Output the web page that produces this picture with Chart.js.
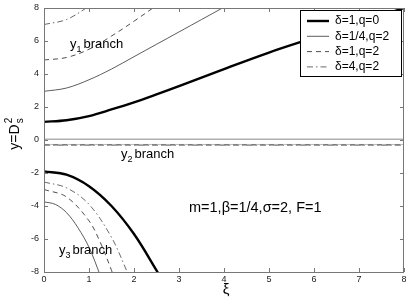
<!DOCTYPE html>
<html>
<head>
<meta charset="utf-8">
<script src="https://cdn.jsdelivr.net/npm/chart.js@4.4.1/dist/chart.umd.min.js"></script>
<style>
  html, body { margin: 0; padding: 0; background: #fff; }
  #wrap { width: 409px; height: 300px; position: relative; }
</style>
</head>
<body>
<div id="wrap"><canvas id="c"></canvas></div>
<script>
// ticks
const xTicks = [0, 1, 2, 3, 4, 5, 6, 7, 8];
const yTicks = [-8, -6, -4, -2, 0, 2, 4, 6, 8];

// y1 branch
const y1ThickX = [0, 0.5, 1, 1.5, 2, 2.5, 3, 4, 5, 6, 7, 8];
const y1ThickY = [1.1, 1.2, 1.45, 1.85, 2.28, 2.76, 3.26, 4.3, 5.3, 6.2, 7.1, 8.0];
const y1ThinX = [0, 0.5, 1, 1.5, 2, 2.5, 3, 3.5, 4];
const y1ThinY = [2.95, 3.15, 3.65, 4.3, 5.05, 5.8, 6.55, 7.3, 8.05];
const y1DashX = [0, 0.5, 1, 1.5, 2, 2.5];
const y1DashY = [4.85, 5.0, 5.5, 6.3, 7.2, 8.15];
const y1DotX = [0, 0.5, 1];
const y1DotY = [7.0, 7.3, 8.1];

// y2 branch
const y2X = [0, 2, 4, 6, 8];
const y2ThickY = [0.05, 0.05, 0.05, 0.05, 0.05];
const y2ThinY = [-0.27, -0.27, -0.27, -0.27, -0.27];
const y2DashY = [-0.3, -0.3, -0.3, -0.3, -0.3];
const y2DotY = [-0.33, -0.33, -0.33, -0.33, -0.33];

// y3 branch
const y3ThickX = [0, 0.5, 1, 1.5, 2, 2.5, 2.6];
const y3ThickY = [-1.9, -2.1, -2.8, -4.0, -5.7, -7.9, -8.4];
const y3ThinX = [0, 0.25, 0.5, 0.75, 1, 1.25];
const y3ThinY = [-3.75, -3.9, -4.4, -5.3, -6.5, -8.2];
const y3DashX = [0, 0.5, 1, 1.25, 1.5, 1.55];
const y3DashY = [-3.0, -3.45, -4.9, -6.2, -7.9, -8.3];
const y3DotX = [0, 0.5, 1, 1.5, 1.85, 1.9];
const y3DotY = [-2.55, -2.9, -3.9, -5.9, -8.0, -8.3];

const legendLabels = ['δ=1,q=0', 'δ=1/4,q=2', 'δ=1,q=2', 'δ=4,q=2'];

const STYLES = [
  { borderColor: '#000', borderWidth: 2.4, borderDash: [] },
  { borderColor: '#333', borderWidth: 0.8, borderDash: [] },
  { borderColor: '#222', borderWidth: 0.8, borderDash: [5, 4] },
  { borderColor: '#444', borderWidth: 0.8, borderDash: [6, 3, 1.5, 3] },
];

function pts(xs, ys) { return xs.map((x, i) => ({ x, y: ys[i] })); }

function line(xs, ys, s, extra) {
  return Object.assign({
    data: pts(xs, ys),
    borderColor: STYLES[s].borderColor,
    borderWidth: STYLES[s].borderWidth,
    borderDash: STYLES[s].borderDash,
    pointRadius: 0,
    fill: false,
    tension: 0.35,
  }, extra || {});
}

const datasets = [
  // y2: nearly flat, drawn lighter as in the figure
  line(y2X, y2ThickY, 0, { borderColor: '#888', borderWidth: 1 }),
  line(y2X, y2DotY, 3, { borderColor: '#999', borderWidth: 1.2 }),
  line(y2X, y2DashY, 2, { borderColor: '#666', borderWidth: 1.2 }),
  line(y2X, y2ThinY, 1, { borderColor: '#aaa', borderWidth: 0.8 }),
  line(y1ThickX, y1ThickY, 0), line(y1ThinX, y1ThinY, 1), line(y1DashX, y1DashY, 2), line(y1DotX, y1DotY, 3),
  line(y3ThickX, y3ThickY, 0), line(y3ThinX, y3ThinY, 1), line(y3DashX, y3DashY, 2), line(y3DotX, y3DotY, 3),
];

const FONT = '"Liberation Sans", Arial, Helvetica, sans-serif';

// axes box, inward ticks, tick labels, legend, annotations
const decor = {
  id: 'decor',
  afterDatasetsDraw(chart) {
    const { ctx, chartArea: a, scales: { x, y } } = chart;
    ctx.save();
    ctx.strokeStyle = '#777';
    ctx.lineWidth = 1;
    ctx.strokeRect(a.left + 0.5, a.top + 0.5, a.right - a.left - 1, a.bottom - a.top);

    ctx.fillStyle = '#222';
    ctx.font = '9px ' + FONT;
    ctx.beginPath();
    xTicks.forEach(t => {
      const px = Math.round(x.getPixelForValue(t)) + 0.5;
      ctx.moveTo(px, a.bottom); ctx.lineTo(px, a.bottom - 4);
      ctx.moveTo(px, a.top); ctx.lineTo(px, a.top + 4);
    });
    yTicks.forEach(t => {
      const py = Math.round(y.getPixelForValue(t)) + 0.5;
      ctx.moveTo(a.left, py); ctx.lineTo(a.left + 4, py);
      ctx.moveTo(a.right, py); ctx.lineTo(a.right - 4, py);
    });
    ctx.stroke();

    ctx.textAlign = 'center';
    ctx.textBaseline = 'top';
    xTicks.forEach(t => ctx.fillText(String(t), x.getPixelForValue(t), a.bottom + 3));
    ctx.textAlign = 'right';
    ctx.textBaseline = 'middle';
    yTicks.forEach(t => ctx.fillText(String(t), a.left - 5, y.getPixelForValue(t)));

    // legend
    const lx = 300, ly = 10, lw = 101, lh = 66;
    ctx.fillStyle = '#fff';
    ctx.fillRect(lx, ly, lw, lh);
    ctx.strokeStyle = '#000';
    ctx.strokeRect(lx + 0.5, ly + 0.5, lw, lh);
    ctx.font = '12px ' + FONT;
    ctx.textAlign = 'left';
    ctx.textBaseline = 'middle';
    legendLabels.forEach((lab, i) => {
      const ry = ly + 11 + i * 15.3;
      const s = STYLES[i];
      ctx.strokeStyle = s.borderColor;
      ctx.lineWidth = s.borderWidth;
      ctx.setLineDash(s.borderDash);
      ctx.beginPath();
      ctx.moveTo(lx + 7, ry); ctx.lineTo(lx + 29, ry);
      ctx.stroke();
      ctx.setLineDash([]);
      ctx.fillStyle = '#000';
      ctx.fillText(lab, lx + 35, ry);
    });

    // branch labels
    ctx.fillStyle = '#000';
    ctx.textBaseline = 'alphabetic';
    function branch(sub, px, py) {
      ctx.font = '13px ' + FONT;
      ctx.fillText('y', px, py);
      const w = ctx.measureText('y').width;
      ctx.font = '9px ' + FONT;
      ctx.fillText(sub, px + w, py + 4);
      ctx.font = '13px ' + FONT;
      ctx.fillText('branch', px + w + 7, py);
    }
    branch('1', 70, 48);
    branch('2', 121, 158);
    branch('3', 59, 254);

    ctx.font = '14.5px ' + FONT;
    ctx.fillText('m=1,β=1/4,σ=2, F=1', 189, 212);

    // axis titles
    ctx.font = '15px ' + FONT;
    ctx.textAlign = 'center';
    ctx.fillText('ξ', 226, 294);

    ctx.translate(19, 133);
    ctx.rotate(-Math.PI / 2);
    ctx.textAlign = 'left';
    ctx.font = '14px ' + FONT;
    const t1 = 'y=D';
    const w1 = ctx.measureText(t1).width;
    const x0 = -(w1 + 8) / 2;
    ctx.fillText(t1, x0, 0);
    ctx.font = '10px ' + FONT;
    ctx.fillText('2', x0 + w1 + 1, -7);
    ctx.fillText('s', x0 + w1 + 1, 4);
    ctx.restore();
  }
};

new Chart(document.getElementById('c'), {
  type: 'line',
  data: { datasets },
  options: {
    responsive: true,
    maintainAspectRatio: false,
    animation: false,
    layout: { padding: { left: 44, right: 5, top: 8, bottom: 28 } },
    plugins: { legend: { display: false }, tooltip: { enabled: false } },
    scales: {
      x: { type: 'linear', min: 0, max: 8, display: false },
      y: { type: 'linear', min: -8, max: 8, display: false },
    },
  },
  plugins: [decor],
});
</script>
</body>
</html>
